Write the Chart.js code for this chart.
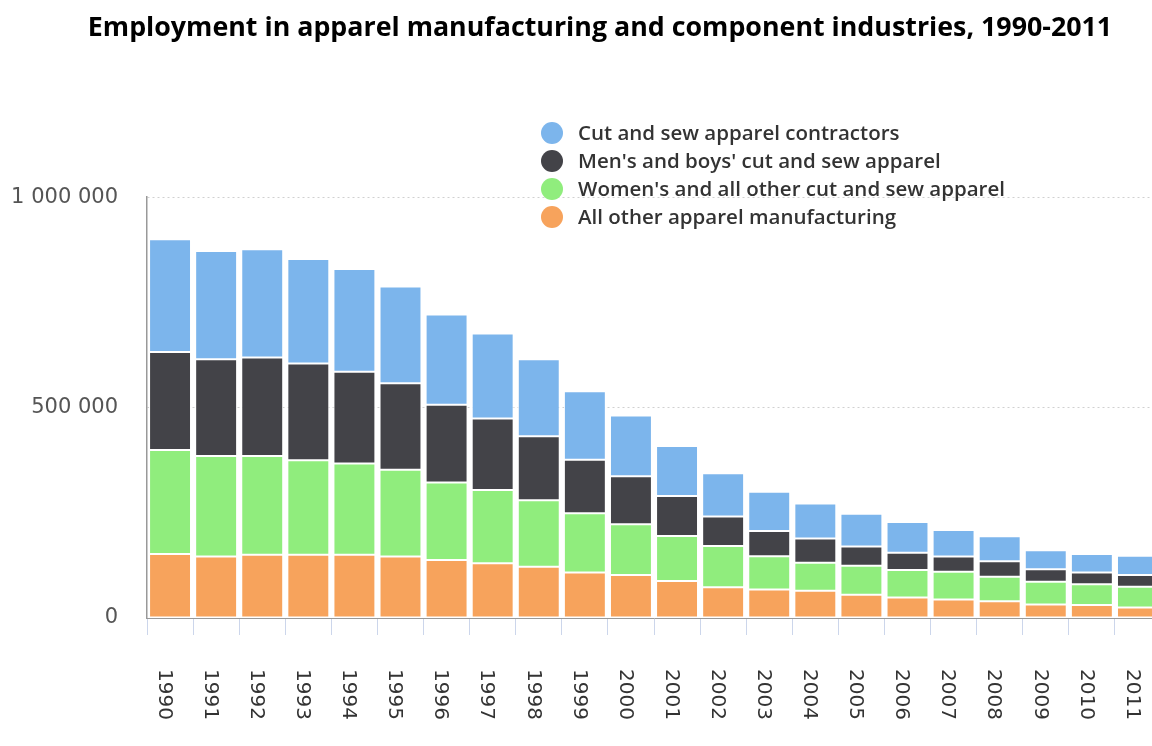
<!DOCTYPE html>
<html>
<head>
<meta charset="utf-8">
<script src="https://cdn.jsdelivr.net/npm/chart.js@4.4.0/dist/chart.umd.min.js"></script>
<style>
  html, body { margin: 0; padding: 0; background: #fff; overflow: hidden; }
  canvas { display: block; }
</style>
</head>
<body>
<canvas id="apparelChart" width="1200" height="746"></canvas>
<script>
// values (employees)
const years = ['1990', '1991', '1992', '1993', '1994', '1995', '1996', '1997', '1998', '1999', '2000',
               '2001', '2002', '2003', '2004', '2005', '2006', '2007', '2008', '2009', '2010', '2011'];
const contractors = [268000, 257000, 257000, 248000, 244000, 230000, 214000, 202000, 183000, 163000, 144000,
                     119000, 103000, 93000, 83000, 78000, 73000, 63000, 59000, 45000, 44000, 46000];
const mensBoys = [233000, 230000, 234000, 230000, 218000, 206000, 185000, 170000, 152000, 127000, 114000,
                  95000, 70000, 60000, 58000, 46000, 41000, 36000, 37000, 30000, 28000, 28000];
const womensOther = [247000, 239000, 235000, 225000, 217000, 206000, 184000, 174000, 158000, 141000, 121000,
                     107000, 98000, 79000, 66000, 69000, 65000, 66000, 58000, 54000, 49000, 49000];
const allOther = [152000, 146000, 150000, 150000, 150000, 146000, 138000, 130000, 122000, 108000, 102000,
                  88000, 73000, 68000, 65000, 55000, 49000, 44000, 40000, 32000, 31000, 25000];
const yTicks = [0, 500000, 1000000];

function spaced(v) {
    return String(v).replace(/\B(?=(\d{3})+(?!\d))/g, ' ');
}

// centre the title on the whole canvas, not the padded box
const wideTitle = {
    id: 'wideTitle',
    afterLayout(chart) {
        if (chart.titleBlock) {
            chart.titleBlock.left = 0;
            chart.titleBlock.right = chart.width;
        }
    }
};

// legend drawn as a column over the top of the plot
const columnLegend = {
    id: 'columnLegend',
    afterDraw(chart) {
        const ctx = chart.ctx;
        const sets = chart.data.datasets.slice().reverse();
        ctx.save();
        ctx.font = '600 20.5px "Open Sans"';
        ctx.textBaseline = 'middle';
        ctx.textAlign = 'left';
        sets.forEach((ds, i) => {
            const y = 133 + i * 28;
            ctx.fillStyle = ds.backgroundColor;
            ctx.beginPath();
            ctx.arc(552, y, 11, 0, Math.PI * 2);
            ctx.fill();
            ctx.fillStyle = '#333333';
            ctx.fillText(ds.label, 578, y + 1);
        });
        ctx.restore();
    }
};

// year labels turned clockwise, reading downwards
const downLabels = {
    id: 'downLabels',
    afterDraw(chart) {
        const ctx = chart.ctx;
        const xs = chart.scales.x;
        ctx.save();
        ctx.font = '20px "DejaVu Sans"';
        ctx.fillStyle = '#333333';
        ctx.textAlign = 'left';
        ctx.textBaseline = 'middle';
        chart.data.labels.forEach((lab, i) => {
            const x = xs.getPixelForValue(i) - 6;
            ctx.save();
            ctx.translate(x, xs.top + 51);
            ctx.rotate(Math.PI / 2);
            ctx.fillText(lab, 0, 0);
            ctx.restore();
        });
        ctx.restore();
    }
};

const ctx = document.getElementById('apparelChart').getContext('2d');
const apparelChart = new Chart(ctx, {
    type: 'bar',
    data: {
        labels: years,
        datasets: [
            { label: 'All other apparel manufacturing', data: allOther, backgroundColor: '#f7a35c' },
            { label: "Women's and all other cut and sew apparel", data: womensOther, backgroundColor: '#90ed7d' },
            { label: "Men's and boys' cut and sew apparel", data: mensBoys, backgroundColor: '#434348' },
            { label: 'Cut and sew apparel contractors', data: contractors, backgroundColor: '#7cb5ec' }
        ]
    },
    options: {
        responsive: false,
        animation: false,
        layout: { padding: { left: 0, right: 39, top: 0, bottom: 0 } },
        datasets: {
            bar: {
                borderColor: '#ffffff',
                borderWidth: 1,
                borderSkipped: false,
                barPercentage: 0.91,
                categoryPercentage: 1
            }
        },
        plugins: {
            legend: { display: false },
            tooltip: { enabled: false },
            title: {
                display: true,
                text: 'Employment in apparel manufacturing and component industries, 1990-2011',
                color: '#000000',
                font: { family: '"Open Sans"', size: 26.8, weight: 'bold' },
                padding: { top: 12, bottom: 153 }
            }
        },
        scales: {
            x: {
                stacked: true,
                grid: {
                    offset: true,
                    drawOnChartArea: false,
                    drawTicks: true,
                    tickLength: 17,
                    color: '#ccd6eb'
                },
                border: { display: true, color: '#999999', width: 1 },
                ticks: { display: false },
                afterFit(scale) { scale.height = 128; }
            },
            y: {
                stacked: true,
                min: 0,
                max: 1000000,
                afterBuildTicks(scale) { scale.ticks = yTicks.map(v => ({ value: v })); },
                grid: {
                    drawTicks: false,
                    color: ctx => ctx.tick && ctx.tick.value === 0 ? 'rgba(0,0,0,0)' : '#d0d0d0'
                },
                border: { display: true, color: '#999999', width: 1.5, dash: [2, 3] },
                ticks: {
                    padding: 29,
                    color: '#555555',
                    font: { family: '"DejaVu Sans"', size: 21 },
                    callback: v => spaced(v)
                },
                afterFit(scale) { scale.width = 147; }
            }
        }
    },
    plugins: [wideTitle, columnLegend, downLabels]
});
</script>
</body>
</html>
